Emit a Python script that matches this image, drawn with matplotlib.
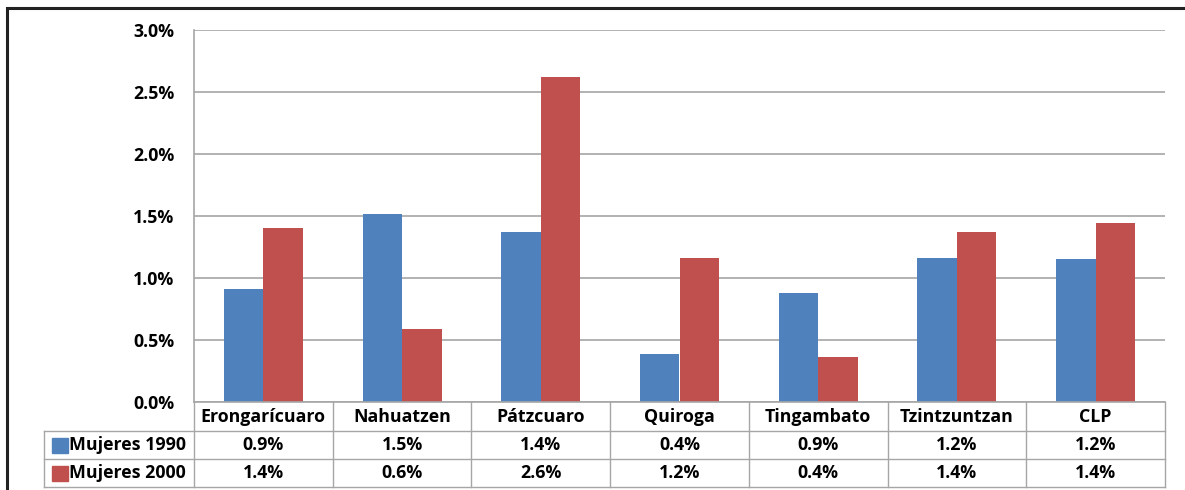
import matplotlib.pyplot as plt
from matplotlib.patches import Rectangle
import numpy as np

plt.rcParams['font.family'] = ['Open Sans', 'DejaVu Sans']
plt.rcParams['font.weight'] = 'bold'

categories = ['Erongarícuaro', 'Nahuatzen', 'Pátzcuaro', 'Quiroga', 'Tingambato', 'Tzintzuntzan', 'CLP']
series_names = ['Mujeres 1990', 'Mujeres 2000']
mujeres_1990 = [0.91, 1.52, 1.37, 0.39, 0.88, 1.16, 1.155]
mujeres_2000 = [1.40, 0.59, 2.62, 1.16, 0.36, 1.37, 1.44]
colors = ['#4F81BD', '#C0504D']
grid_col = '#A6A6A6'
fs = 12.8

W, H = 1185, 490
fig = plt.figure(figsize=(W / 100, H / 100), dpi=100)

# plot area in pixels
L, R, T, B = 194, 1165, 30, 402
ax = fig.add_axes([L / W, 1 - B / H, (R - L) / W, (B - T) / H])

n = len(categories)
x = np.arange(n)
bw = 0.285
ax.bar(x - bw / 2, mujeres_1990, bw, color=colors[0], edgecolor='none', zorder=3)
ax.bar(x + bw / 2, mujeres_2000, bw, color=colors[1], edgecolor='none', zorder=3)

ax.set_xlim(-0.5, n - 0.5)
ax.set_ylim(0, 3.0)
ax.set_yticks(np.arange(0, 3.01, 0.5))
ax.set_yticklabels(['%.1f%%' % v for v in np.arange(0, 3.01, 0.5)], fontsize=fs, fontweight='bold')
ax.tick_params(axis='y', length=0, pad=14)
ax.set_xticks([])
ax.yaxis.grid(True, color=grid_col, linewidth=1.2, zorder=0)
for s in ['top', 'right', 'bottom']:
    ax.spines[s].set_visible(False)
ax.spines['left'].set_color(grid_col)
ax.spines['left'].set_linewidth(1.2)

# overlay in pixel coordinates for table and frame
ov = fig.add_axes([0, 0, 1, 1], zorder=5)
ov.set_xlim(0, W)
ov.set_ylim(H, 0)
ov.axis('off')
ov.patch.set_alpha(0)

# outer frame
ov.plot([7, 7, W + 5], [H + 5, 8, 8], color='#222222', linewidth=2.2, solid_joinstyle='miter')

# data table
row_y = [402, 431, 459, 487]
col_w = (R - L) / n
col_x = [L + i * col_w for i in range(n + 1)]
leg_l = 44
lw = 1.0
for y in row_y[1:]:
    ov.plot([leg_l, R], [y, y], color=grid_col, linewidth=lw)
ov.plot([L, R], [row_y[0], row_y[0]], color=grid_col, linewidth=1.2)
for i, cx in enumerate(col_x):
    ov.plot([cx, cx], [row_y[0], row_y[-1]], color=grid_col, linewidth=lw)
ov.plot([leg_l, leg_l], [row_y[1], row_y[-1]], color=grid_col, linewidth=lw)

for i, c in enumerate(categories):
    ov.text((col_x[i] + col_x[i + 1]) / 2, (row_y[0] + row_y[1]) / 2, c,
            ha='center', va='center', fontsize=fs, fontweight='bold')

for r, (name, vals) in enumerate(zip(series_names, [mujeres_1990, mujeres_2000])):
    yc = (row_y[r + 1] + row_y[r + 2]) / 2
    ov.add_patch(Rectangle((52, yc - 7.5), 16, 15, color=colors[r]))
    ov.text(69, yc, name, ha='left', va='center', fontsize=fs, fontweight='bold')
    for i, v in enumerate(vals):
        ov.text((col_x[i] + col_x[i + 1]) / 2, yc, '%.1f%%' % v,
                ha='center', va='center', fontsize=fs, fontweight='bold')

fig.savefig('out.png', dpi=100)
